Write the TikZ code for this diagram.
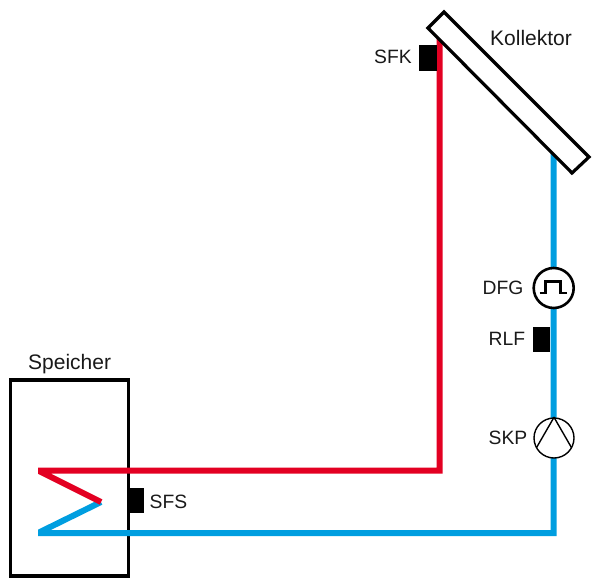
\documentclass[tikz,border=0pt]{standalone}
\usepackage{fontspec}
\setmainfont{Liberation Sans}
\definecolor{hotred}{RGB}{227,0,34}
\definecolor{coldblue}{RGB}{0,158,224}
\tikzset{
  pipehot/.style={draw=hotred,line width=6pt,line join=miter,line cap=butt},
  pipecold/.style={draw=coldblue,line width=6pt,line join=miter,line cap=butt},
  sensor/.style={fill=black,draw=none,minimum width=17.5pt,minimum height=25.5pt,inner sep=0pt},
  lbl/.style={font=\fontsize{19.3pt}{22pt}\selectfont,text=black!90,inner sep=0pt},
  lblbig/.style={lbl,font=\fontsize{21pt}{24pt}\selectfont},
  ring/.style={circle,draw=black,fill=white,inner sep=0pt,minimum size=40pt}
}
\begin{document}
\begin{tikzpicture}[x=1pt,y=-1pt]
\useasboundingbox (0,0) rectangle (595,581);
% tank
\node[draw=black,line width=3.4pt,fill=white,minimum width=118pt,minimum height=196pt,inner sep=0pt,outer sep=0pt] (speicher) at (69.6,478) {};
% anchor coordinates
\coordinate (hotTop) at (439.7,38);
\coordinate (hotCorner) at (439.7,470.5);
\coordinate (hotIn) at (38,470.5);
\coordinate (coilTip) at (101,502);
\coordinate (coldIn) at (38,533);
\coordinate (coldCorner) at (553.7,533);
\coordinate (coldTop) at (553.7,150);
% pipes
\begin{scope}
\clip (38,0) rectangle (595,581);
\draw[pipecold] (coldTop) -- (coldCorner) -- (coldIn) -- (coilTip);
\draw[pipehot] (hotTop) -- (hotCorner) -- (hotIn) -- (coilTip);
\end{scope}
% collector
\coordinate (c1) at (428,28);
\coordinate (c2) at (444,12);
\coordinate (c3) at (589,157);
\coordinate (c4) at (572,173);
\draw[draw=black,fill=white,line width=3.2pt,line join=miter] (c1) -- (c2) -- (c3) -- (c4) -- cycle;
% sensors
\node[sensor] (sfk) at (428,57.8) {};
\node[sensor] (rlf) at (541.5,339.5) {};
\node[sensor,minimum width=15pt] (sfs) at (136.3,500.5) {};
% flow meter
\node[ring,line width=2.6pt] (dfg) at (553.7,288) {};
\draw[line width=2.6pt,line join=miter] ([shift={(-14,5)}]dfg.center) -- ++(6,0) -- ++(0,-11.5) -- ++(15,0) -- ++(0,11.5) -- ++(6,0);
% pump
\node[ring,line width=1.4pt] (skp) at (554,438) {};
\draw[line width=1.4pt,line join=round] ([shift={(-17.6,9.8)}]skp.center) -- (skp.north) -- ([shift={(17.6,9.8)}]skp.center);
% labels
\node[lblbig,anchor=base west] (tK) at (490,45.7) {Kollektor};
\node[lbl,anchor=base west] (tSFK) at (374,63.7) {SFK};
\node[lbl,anchor=base west] (tDFG) at (482.5,294) {DFG};
\node[lbl,anchor=base west] (tRLF) at (488.5,345) {RLF};
\node[lbl,anchor=base west] (tSKP) at (488.5,444) {SKP};
\node[lblbig,anchor=base west] (tSp) at (28,369) {Speicher};
\node[lbl,anchor=base west] (tSFS) at (149.5,508) {SFS};
\end{tikzpicture}
\end{document}
